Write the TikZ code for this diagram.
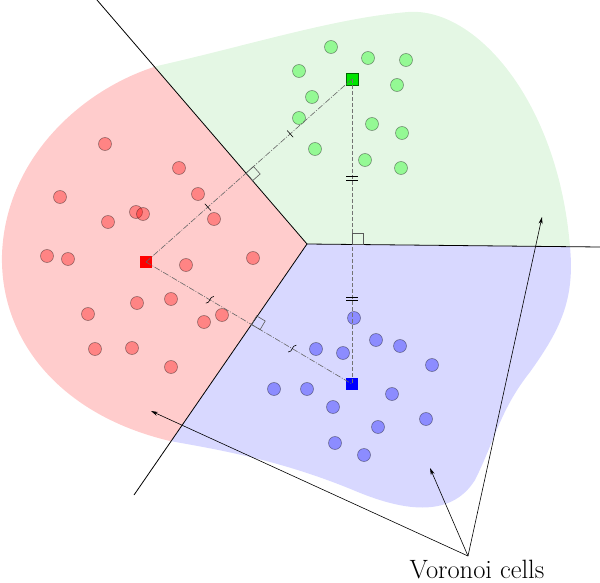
\documentclass[tikz,border=0pt]{standalone}
\usetikzlibrary{calc,arrows.meta,intersections}
\definecolor{regRed}{RGB}{255,204,204}
\definecolor{regGreen}{RGB}{228,247,228}
\definecolor{regBlue}{RGB}{216,216,255}
\begin{document}
\begin{tikzpicture}[x=1pt,y=-1pt,
  dotbase/.style={circle,minimum size=13pt,inner sep=0pt,draw=black,draw opacity=0.4,line width=0.6pt,fill opacity=0.35},
  rdot/.style={dotbase,fill=red},
  gdot/.style={dotbase,fill=green},
  bdot/.style={dotbase,fill=blue},
  gen/.style={rectangle,minimum size=12pt,inner sep=0pt},
  edge/.style={draw=black,line width=0.8pt},
  seg/.style={draw=black!60,line width=0.6pt,dash pattern=on 6pt off 1.5pt on 1pt off 1.5pt},
  segd/.style={draw=black!55,line width=0.7pt,dash pattern=on 4pt off 2pt},
  ra/.style={draw=black!65,line width=0.6pt},
  tickm/.style={draw=black,line width=0.6pt},
  arr/.style={draw=black,line width=0.6pt,-{Stealth[length=7pt,width=4pt]}}
]
\useasboundingbox (0,0) rectangle (600,583);

% Voronoi vertex and edge ends
\coordinate (V) at (307,244);
\coordinate (E1) at (97,0);
\coordinate (E2) at (134,495);
\coordinate (E3) at (600,247);
\coordinate (F1) at ($(V)!1.3!(E1)$);
\coordinate (F2) at ($(V)!1.6!(E2)$);
\coordinate (F3) at ($(V)!1.2!(E3)$);

% blob regions
\begin{scope}
  \clip (157,66) .. controls (250,45) and (335,18) .. (408,12)
    .. controls (475,7) and (558,100) .. (570,247)
    .. controls (575,300) and (560,330) .. (530,372)
    .. controls (500,410) and (495,440) .. (475,480)
    .. controls (450,520) and (400,510) .. (353,490)
    .. controls (280,460) and (220,450) .. (170,441)
    .. controls (60,415) and (0,340) .. (2,255)
    .. controls (5,160) and (80,90) .. (157,66) -- cycle;
  \fill[regRed] (V) -- (F1) -- (-60,-60) -- (-60,700) -- (F2) -- cycle;
  \fill[regGreen] (V) -- (F1) -- (700,-60) -- (F3) -- cycle;
  \fill[regBlue] (V) -- (F3) -- (700,700) -- (F2) -- cycle;
\end{scope}

% Voronoi edges
\draw[edge,name path=e1] (V) -- (E1);
\draw[edge,name path=e2] (V) -- (E2);
\draw[edge,name path=e3] (V) -- (E3);

% red points
\foreach \px/\py [count=\i] in {105/144,179/168,60/197,198/194,136/212,143/214,108/222,214/219,
  47/256,68/259,253/258,186/265,137/303,171/299,88/314,222/315,204/322,95/349,132/348,171/367}
  \node[rdot] (r\i) at (\px,\py) {};
% green points
\foreach \px/\py [count=\i] in {331/47,368/58,406/60,299/71,397/85,312/97,299/118,372/124,
  402/133,315/149,365/160,401/168}
  \node[gdot] (g\i) at (\px,\py) {};
% blue points
\foreach \px/\py [count=\i] in {354/318,316/349,343/353,376/340,400/346,432/365,274/389,307/389,
  333/407,392/394,378/427,426/419,335/443,364/455}
  \node[bdot] (b\i) at (\px,\py) {};

% generators
\node[gen,fill=red] (R) at (146,262) {};
\node[gen,fill=green!90!black,draw=green!40!black,line width=0.5pt] (G) at (352,79) {};
\node[gen,fill=blue] (B) at (352,384) {};

% segments between generators
\draw[seg,name path=rg] (R.center) -- (G.center);
\draw[seg,name path=rb] (R.center) -- (B.center);
\draw[segd,name path=gb] (G.center) -- (B.center);

\path[name intersections={of=rg and e1,by=X1}];
\path[name intersections={of=rb and e2,by=X2}];
\path[name intersections={of=gb and e3,by=X3}];

% right angle marks
\coordinate (U1) at ($(X1)!10pt!(G.center)$);
\coordinate (W1) at ($(X1)!10pt!-90:(G.center)$);
\draw[ra] (X1) -- (U1) -- ($(U1)+(W1)-(X1)$) -- (W1) -- cycle;
\coordinate (U2) at ($(X2)!10pt!(B.center)$);
\coordinate (W2) at ($(X2)!10pt!90:(B.center)$);
\draw[ra] (X2) -- (U2) -- ($(U2)+(W2)-(X2)$) -- (W2) -- cycle;
\coordinate (U3) at ($(X3)!11pt!(G.center)$);
\coordinate (W3) at ($(X3)!11pt!-90:(G.center)$);
\draw[ra] (X3) -- (U3) -- ($(U3)+(W3)-(X3)$) -- (W3) -- cycle;

% single ticks on red-green
\foreach \t in {0.3,0.7}{
  \coordinate (T) at ($(R.center)!\t!(G.center)$);
  \draw[tickm] ($(T)!4.5pt!90:(G.center)$) -- ($(T)!4.5pt!-90:(G.center)$);
}
% double ticks on green-blue
\foreach \t in {0.325,0.72}{
  \coordinate (D) at ($(G.center)!\t!(B.center)$);
  \draw[tickm] ($(D)+(-6,-1.8)$) -- ++(12,0);
  \draw[tickm] ($(D)+(-6,1.8)$) -- ++(12,0);
}
% curly ticks on red-blue
\foreach \t in {0.31,0.71}{
  \coordinate (C) at ($(R.center)!\t!(B.center)$);
  \begin{scope}[shift={(C)},rotate=-30.6]
    \draw[tickm] (-1.8,5) .. controls (2.5,2.5) and (-2.5,-2.5) .. (1.8,-5);
  \end{scope}
}

% label and arrows
\coordinate (L) at (468,556);
\coordinate (A1) at (151,411);
\coordinate (A2) at (430,468);
\coordinate (A3) at (542,217);
\draw[arr] (L) -- (A1);
\draw[arr] (L) -- (A2);
\draw[arr] (L) -- (A3);
\node[anchor=base,inner sep=0pt,font=\fontsize{26.5}{32}\selectfont] (lab) at (477,578.5) {Voronoi cells};
\end{tikzpicture}
\end{document}
